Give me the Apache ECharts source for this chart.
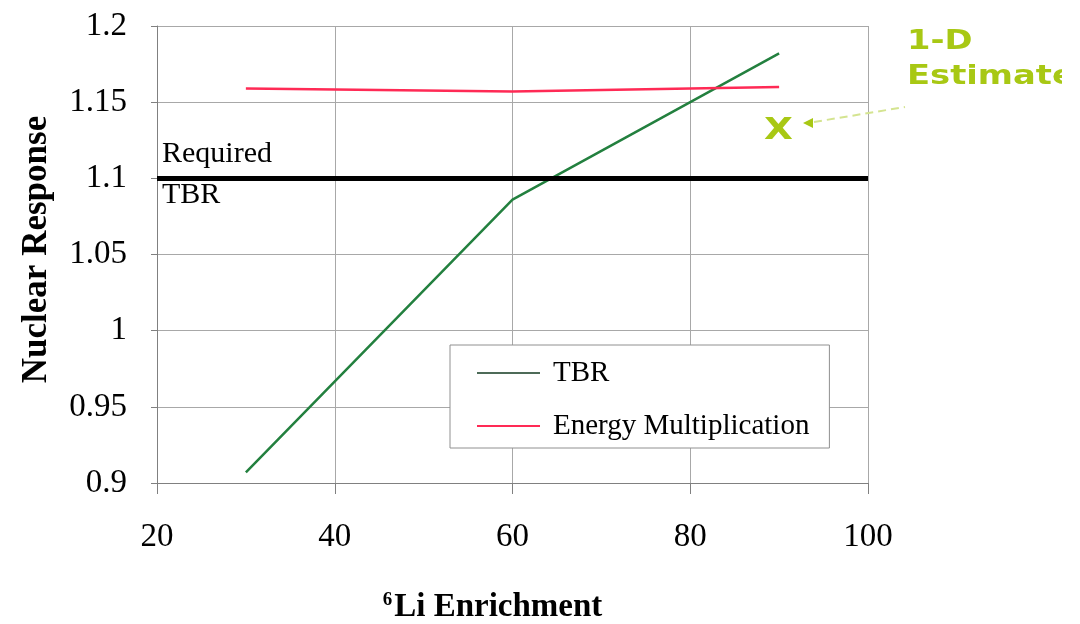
<!DOCTYPE html>
<html>
<head>
<meta charset="utf-8">
<script src="https://cdn.jsdelivr.net/npm/echarts@6/dist/echarts.min.js"></script>
<style>html,body{margin:0;padding:0;background:#fff;overflow:hidden;}#c{width:1080px;height:624px;}</style>
</head>
<body>
<div id="c"></div>
<script>
const enrichment = [30, 60, 90];
const tbrValues = [0.907, 1.086, 1.182];
const energyMultValues = [1.159, 1.157, 1.160];
const requiredTBR = 1.1;
const xTicks = [20, 40, 60, 80, 100];
const yTicks = [0.9, 0.95, 1, 1.05, 1.1, 1.15, 1.2];

const serif = '"Liberation Serif", "Times New Roman", serif';
const sans = '"DejaVu Sans", Verdana, sans-serif';
const chart = echarts.init(document.getElementById('c'), null, {renderer: 'canvas', width: 1080, height: 624});

chart.setOption({
  backgroundColor: '#ffffff',
  animation: false,
  grid: {left: 157, right: 212, top: 26, bottom: 141, containLabel: false, outerBoundsMode: 'none'},
  xAxis: {
    type: 'value', min: xTicks[0], max: xTicks[xTicks.length - 1], interval: 20,
    name: '{sup|6}{b|Li Enrichment}',
    nameLocation: 'middle', nameGap: 108,
    nameTextStyle: {
      padding: [0, 40, 0, 0],
      rich: {
        sup: {fontFamily: serif, fontWeight: 'bold', fontSize: 19, color: '#000', verticalAlign: 'top', padding: [0, 2, 14, 0]},
        b: {fontFamily: serif, fontWeight: 'bold', fontSize: 33, color: '#000'}
      }
    },
    axisLine: {show: true, lineStyle: {color: '#808080', width: 1}},
    axisTick: {show: true, inside: false, length: 11, lineStyle: {color: '#808080'}},
    axisLabel: {fontFamily: serif, fontSize: 33, color: '#000', margin: 38},
    splitLine: {show: true, lineStyle: {color: '#a8a8a8', width: 1}}
  },
  yAxis: {
    type: 'value', min: yTicks[0], max: yTicks[yTicks.length - 1], interval: 0.05,
    name: 'Nuclear Response',
    nameLocation: 'middle', nameGap: 103, nameRotate: 90,
    nameTextStyle: {fontFamily: serif, fontWeight: 'bold', fontSize: 35, color: '#000', padding: [0, 0, 0, 10]},
    axisLine: {show: true, lineStyle: {color: '#808080', width: 1}},
    axisTick: {show: true, length: 6, lineStyle: {color: '#808080'}},
    axisLabel: {fontFamily: serif, fontSize: 33, color: '#000', margin: 30,
      formatter: v => String(parseFloat(v.toFixed(2)))},
    splitLine: {show: true, lineStyle: {color: '#a8a8a8', width: 1}}
  },
  legend: {
    orient: 'vertical', left: 450, top: 345,
    data: ['TBR', 'Energy Multiplication'],
    icon: 'rect',
    itemWidth: 63, itemHeight: 2, itemGap: 23,
    padding: [13, 20, 7, 27],
    borderColor: '#909090', borderWidth: 1, backgroundColor: '#ffffff',
    textStyle: {fontFamily: serif, fontSize: 29, lineHeight: 30, height: 30, color: '#000', padding: [0, 0, 0, 8]}
  },
  series: [
    {
      name: 'TBR', type: 'line', symbol: 'none',
      data: enrichment.map((x, i) => [x, tbrValues[i]]),
      lineStyle: {color: '#23803f', width: 2.5},
      itemStyle: {color: '#4d6b58'},
      z: 3
    },
    {
      name: 'Energy Multiplication', type: 'line', symbol: 'none',
      data: enrichment.map((x, i) => [x, energyMultValues[i]]),
      lineStyle: {color: '#ff2a55', width: 2.5},
      itemStyle: {color: '#ff2a55'},
      markLine: {
        silent: true, symbol: ['none', 'none'],
        label: {show: false},
        lineStyle: {color: '#000', width: 5, type: 'solid'},
        data: [{yAxis: requiredTBR}]
      },
      z: 3
    }
  ],
  graphic: [
    {type: 'text', left: 162, top: 139, style: {text: 'Required', font: '30px ' + serif, fill: '#000'}},
    {type: 'text', left: 162, top: 180, style: {text: 'TBR', font: '30px ' + serif, fill: '#000'}},
    {type: 'line', shape: {x1: 814, y1: 122, x2: 905, y2: 107}, style: {stroke: '#d4e490', lineWidth: 2, lineDash: [8, 5]}, z: 1},
    {type: 'polygon', shape: {points: [[803, 123], [813, 118], [813, 128]]}, style: {fill: '#a8c814'}},
    {type: 'text', x: 764, y: 116, scaleX: 1.25, style: {text: 'X', font: 'bold 30px ' + sans, fill: '#a8c814'}},
    {type: 'text', x: 907, y: 28, scaleX: 1.25, style: {text: '1-D', font: 'bold 27px ' + sans, fill: '#a8c814'}},
    {type: 'text', x: 907, y: 63, scaleX: 1.25, style: {text: 'Estimate', font: 'bold 27px ' + sans, fill: '#a8c814'}},
    {type: 'rect', shape: {x: 1062, y: 0, width: 18, height: 624}, style: {fill: '#ffffff'}, z: 100}
  ]
});
</script>
</body>
</html>
